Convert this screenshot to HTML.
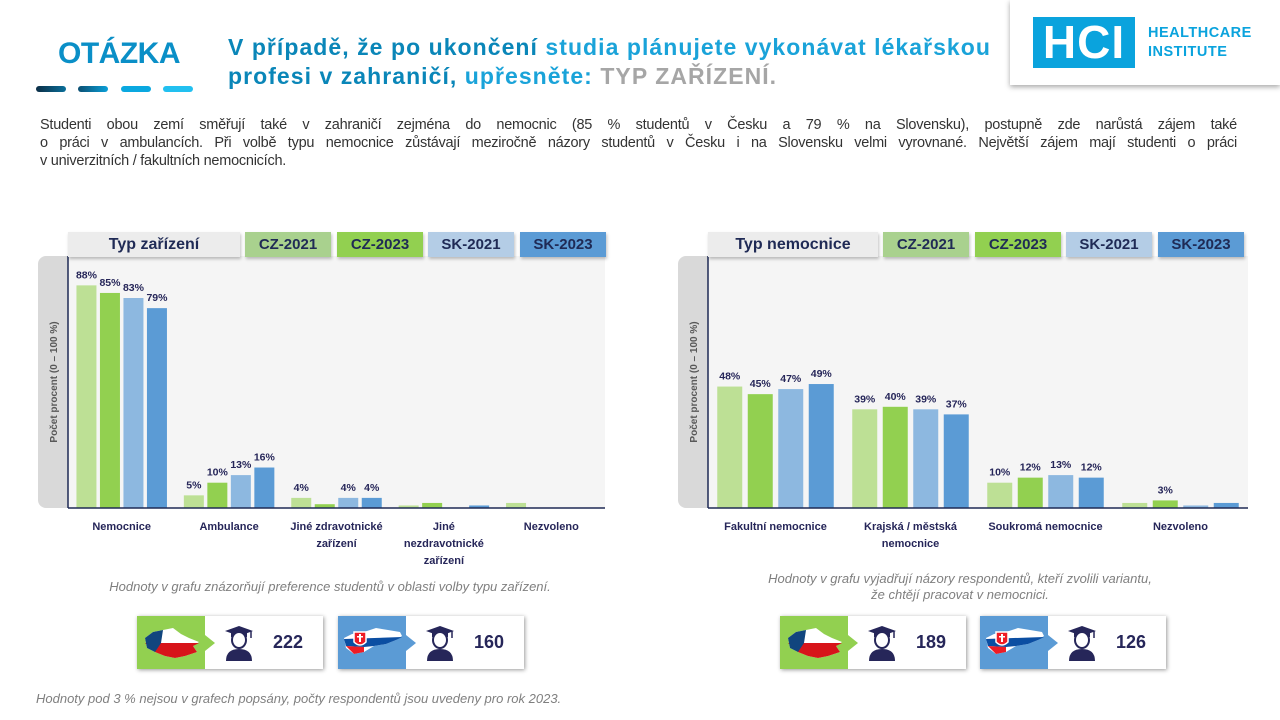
<!DOCTYPE html>
<html><head><meta charset="utf-8">
<style>
*{margin:0;padding:0;box-sizing:border-box}
body{width:1280px;height:720px;background:#fff;font-family:"Liberation Sans",sans-serif;position:relative;overflow:hidden}
.abs{position:absolute}
.otazka{left:36px;top:37px;width:166px;text-align:center;font-size:30px;font-weight:bold;color:#0a8fc7;letter-spacing:-0.5px}
.dash{top:86px;height:6px;width:30px;border-radius:3px}
.title{left:228px;top:33px;font-size:23px;font-weight:bold;color:#1aa3d9;line-height:29px;letter-spacing:1.05px;white-space:nowrap}
.logo{left:1010px;top:0;width:270px;height:85px;background:#fff;box-shadow:0 2px 5px rgba(0,0,0,.35)}
.para{left:40px;top:116px;width:1197px;font-size:14.5px;color:#333;line-height:18px;letter-spacing:-0.25px}
.para div{text-align:justify;text-align-last:justify}
.para div.last{text-align-last:left}
.hdr{height:25px;top:232px;font-weight:bold;font-size:15px;color:#1f2a55;text-align:center;line-height:25px;box-shadow:1px 2px 3px rgba(0,0,0,.25)}
.note{font-style:italic;font-size:13px;color:#7f7f7f;text-align:center}
.badge{top:616px;height:53px;width:186px;background:#fff;box-shadow:1px 1px 4px rgba(0,0,0,.4)}
.num{font-weight:bold;font-size:18px;color:#262659}
</style></head><body>
<div class="abs otazka">OTÁZKA</div>
<div class="abs dash" style="left:36px;background:linear-gradient(90deg,#0b2d45,#0a6f9a)"></div>
<div class="abs dash" style="left:78px;background:linear-gradient(90deg,#0b4f72,#0a9fd8)"></div>
<div class="abs dash" style="left:121px;background:#0aa8e0"></div>
<div class="abs dash" style="left:163px;background:#22c0f0"></div>
<div class="abs title"><span style="color:#0a86b8">V případě, že po ukončení</span> studia plánujete vykonávat lékařskou<br><span style="color:#0a86b8">profesi v zahraničí,</span> upřesněte: <span style="color:#a6a6a6">TYP ZAŘÍZENÍ.</span></div>
<div class="abs logo">
 <div class="abs" style="left:23px;top:17px;width:102px;height:51px;background:#0aa3dd;color:#fff;font-weight:bold;font-size:46px;line-height:51px;text-align:center;letter-spacing:1px">HCI</div>
 <div class="abs" style="left:138px;top:24px;color:#0aa3dd;font-weight:bold;font-size:14.5px;line-height:19px;letter-spacing:0.5px">HEALTHCARE<br>INSTITUTE</div>
</div>
<div class="abs para">
<div>Studenti obou zemí směřují také v zahraničí zejména do nemocnic (85 % studentů v Česku a 79 % na Slovensku), postupně zde narůstá zájem také</div>
<div>o práci v ambulancích. Při volbě typu nemocnice zůstávají meziročně názory studentů v Česku i na Slovensku velmi vyrovnané. Největší zájem mají studenti o práci</div>
<div class="last">v univerzitních / fakultních nemocnicích.</div>
</div>

<svg class="abs" style="left:0;top:0" width="1280" height="720" id="charts"></svg>

<div class="abs note" style="left:50px;top:579px;width:560px">Hodnoty v grafu znázorňují preference studentů v oblasti volby typu zařízení.</div>
<div class="abs note" style="left:690px;top:571px;width:540px;line-height:16px">Hodnoty v grafu vyjadřují názory respondentů, kteří zvolili variantu,<br>že chtějí pracovat v nemocnici.</div>
<div class="abs note" style="left:36px;top:691px;text-align:left">Hodnoty pod 3 % nejsou v grafech popsány, počty respondentů jsou uvedeny pro rok 2023.</div>

<script>
const leftCats=["Nemocnice","Ambulance","Jiné zdravotnické|zařízení","Jiné|nezdravotnické|zařízení","Nezvoleno"];
const leftCZ21=[88,5,4,1,2];
const leftCZ23=[85,10,1.5,2,0];
const leftSK21=[83,13,4,0,0];
const leftSK23=[79,16,4,1,0];
const rightCats=["Fakultní nemocnice","Krajská / městská|nemocnice","Soukromá nemocnice","Nezvoleno"];
const rightCZ21=[48,39,10,2];
const rightCZ23=[45,40,12,3];
const rightSK21=[47,39,13,1];
const rightSK23=[49,37,12,2];
const seriesNames=["CZ-2021","CZ-2023","SK-2021","SK-2023"];
const colors=["#bde095","#92d050","#8db8e0","#5b9bd5"];
const hdrColors=["#a9d18e","#92d050","#b4cde6","#5b9bd5"];
const badgesCounts=[222,160,189,126];

const NS="http://www.w3.org/2000/svg";
const svg=document.getElementById('charts');
function mk(tag,attrs,parent){const e=document.createElementNS(NS,tag);for(const k in attrs)e.setAttribute(k,attrs[k]);(parent||svg).appendChild(e);return e;}

function chart(o){
 const base=508, top=255, pxPer=(base-top)/100;
 const y=v=>base-v*pxPer;
 const strip=mk('rect',{x:o.x0-30,y:256,width:40,height:252,rx:8,fill:'#d9d9d9'});
 
 
 const bg=mk('rect',{x:o.x0,y:256,width:o.x1-o.x0,height:252,fill:'#f5f5f5'});
 
 
 const yt=mk('text',{x:0,y:0,transform:`translate(${o.x0-11},382) rotate(-90)`,'text-anchor':'middle','font-size':'10','font-weight':'bold',fill:'#595959'});
 yt.textContent='Počet procent (0 – 100 %)';
 
 
 const n=o.cats.length, gw=(o.x1-o.x0)/n;
 const series=[o.s1,o.s2,o.s3,o.s4];
 o.cats.forEach((c,i)=>{
  const cx=o.x0+gw*(i+0.5);
  series.forEach((s,j)=>{
   const bx=cx-2*o.step+j*o.step+(o.step-o.bw)/2;
   const v=s[i];
   if(v>0){
    const r=mk('rect',{x:bx,y:y(v),width:o.bw,height:base-y(v),fill:colors[j]});
    
    
   }
   if(v>=3){
    const t=mk('text',{x:bx+o.bw/2,y:y(v)-7,'text-anchor':'middle','font-size':'10.5','font-weight':'bold',fill:'#262659'});
    t.textContent=Math.round(v)+'%';
    
    
   }
  });
  c.split('|').forEach((ln,k)=>{
   const t=mk('text',{x:cx,y:530+k*17,'text-anchor':'middle','font-size':'11','font-weight':'bold',fill:'#262659'});
   t.textContent=ln;
   
   
  });
 });
 const ax=mk('line',{x1:o.x0,y1:256,x2:o.x0,y2:base,stroke:'#1f2a55','stroke-width':1.5});
 
 
 const bx=mk('line',{x1:o.x0,y1:base,x2:o.x1,y2:base,stroke:'#1f2a55','stroke-width':1.5});
 
 
}
chart({x0:68,x1:605,cats:leftCats,s1:leftCZ21,s2:leftCZ23,s3:leftSK21,s4:leftSK23,bw:20,step:23.5});
chart({x0:708,x1:1248,cats:rightCats,s1:rightCZ21,s2:rightCZ23,s3:rightSK21,s4:rightSK23,bw:25,step:30.5});

function headers(left,title,width,boxes){
 const h=document.createElement('div');
 h.className='abs hdr';h.style.left=left+'px';h.style.width=width+'px';h.style.background='#ececec';h.style.fontSize='16px';
 h.textContent=title;
 
 
 document.body.appendChild(h);
 boxes.forEach((bx,j)=>{
  const d=document.createElement('div');
  d.className='abs hdr';d.style.left=bx+'px';d.style.width='86px';d.style.background=hdrColors[j];
  d.textContent=seriesNames[j];
  
  
  document.body.appendChild(d);
 });
}
headers(68,'Typ zařízení',172,[245,337,428,520]);
headers(708,'Typ nemocnice',170,[883,975,1066,1158]);

const student='<svg width="28" height="36" viewBox="0 0 28 36"><polygon points="14,1 28,6 14,11 0,6" fill="#262659"/><rect x="6" y="7" width="16" height="5" fill="#262659"/><line x1="26" y1="6" x2="26" y2="13" stroke="#262659" stroke-width="1.5"/><ellipse cx="14" cy="15" rx="7" ry="8" fill="#fff" stroke="#262659" stroke-width="2"/><path d="M1 36 Q1 24 14 24 Q27 24 27 36Z" fill="#262659"/></svg>';
function badge(left,isCZ,count){
 const b=document.createElement('div');
 b.className='abs badge';b.style.left=left+'px';
 
 
 const col=isCZ?'#92d050':'#5b9bd5';
 const flag=isCZ?
 '<svg width="60" height="34" viewBox="0 0 60 34"><path d="M4 12 L12 6 L22 4 L32 2 L40 8 L48 12 L58 16 L52 20 L56 26 L44 30 L34 32 L24 30 L14 26 L6 22 Z" fill="#fff"/><path d="M4 17 L58 17 L52 20 L56 26 L44 30 L34 32 L24 30 L14 26 Z" fill="#d7141a"/><path d="M4 12 L12 6 L22 4 L20 17 L14 26 L6 22 Z" fill="#11457e"/></svg>':
 '<svg width="62" height="30" viewBox="0 0 62 30"><path d="M2 12 L10 8 L22 6 L34 2 L46 4 L58 6 L60 10 L54 14 L44 18 L32 20 L22 26 L12 28 L4 22 Z" fill="#fff"/><path d="M2 13 L60 11 L54 14 L44 18 L32 20 L22 21 L4 20 Z" fill="#0b4ea2"/><path d="M4 20 L22 21 L22 26 L12 28 Z" fill="#ee1c25"/><path d="M12 6 L24 6 L24 16 Q18 22 12 16Z" fill="#ee1c25" stroke="#fff" stroke-width="1.5"/><path d="M17 8 h2 v8 h-2z M15 10 h6 v1.5 h-6z" fill="#fff"/></svg>';
 b.innerHTML=`<div class="abs" style="left:0;top:0;width:68px;height:53px;background:${col}"></div>
 <div class="abs" style="left:68px;top:19px;width:0;height:0;border-top:8px solid transparent;border-bottom:8px solid transparent;border-left:10px solid ${col}"></div>
 <div class="abs" style="left:4px;top:10px">${flag}</div>
 <div class="abs" style="left:88px;top:9px">${student}</div>
 <div class="abs num" style="left:136px;top:16px">${count}</div>`;
 document.body.appendChild(b);
}
badge(137,true,badgesCounts[0]);
badge(338,false,badgesCounts[1]);
badge(780,true,badgesCounts[2]);
badge(980,false,badgesCounts[3]);
</script>
</body></html>
